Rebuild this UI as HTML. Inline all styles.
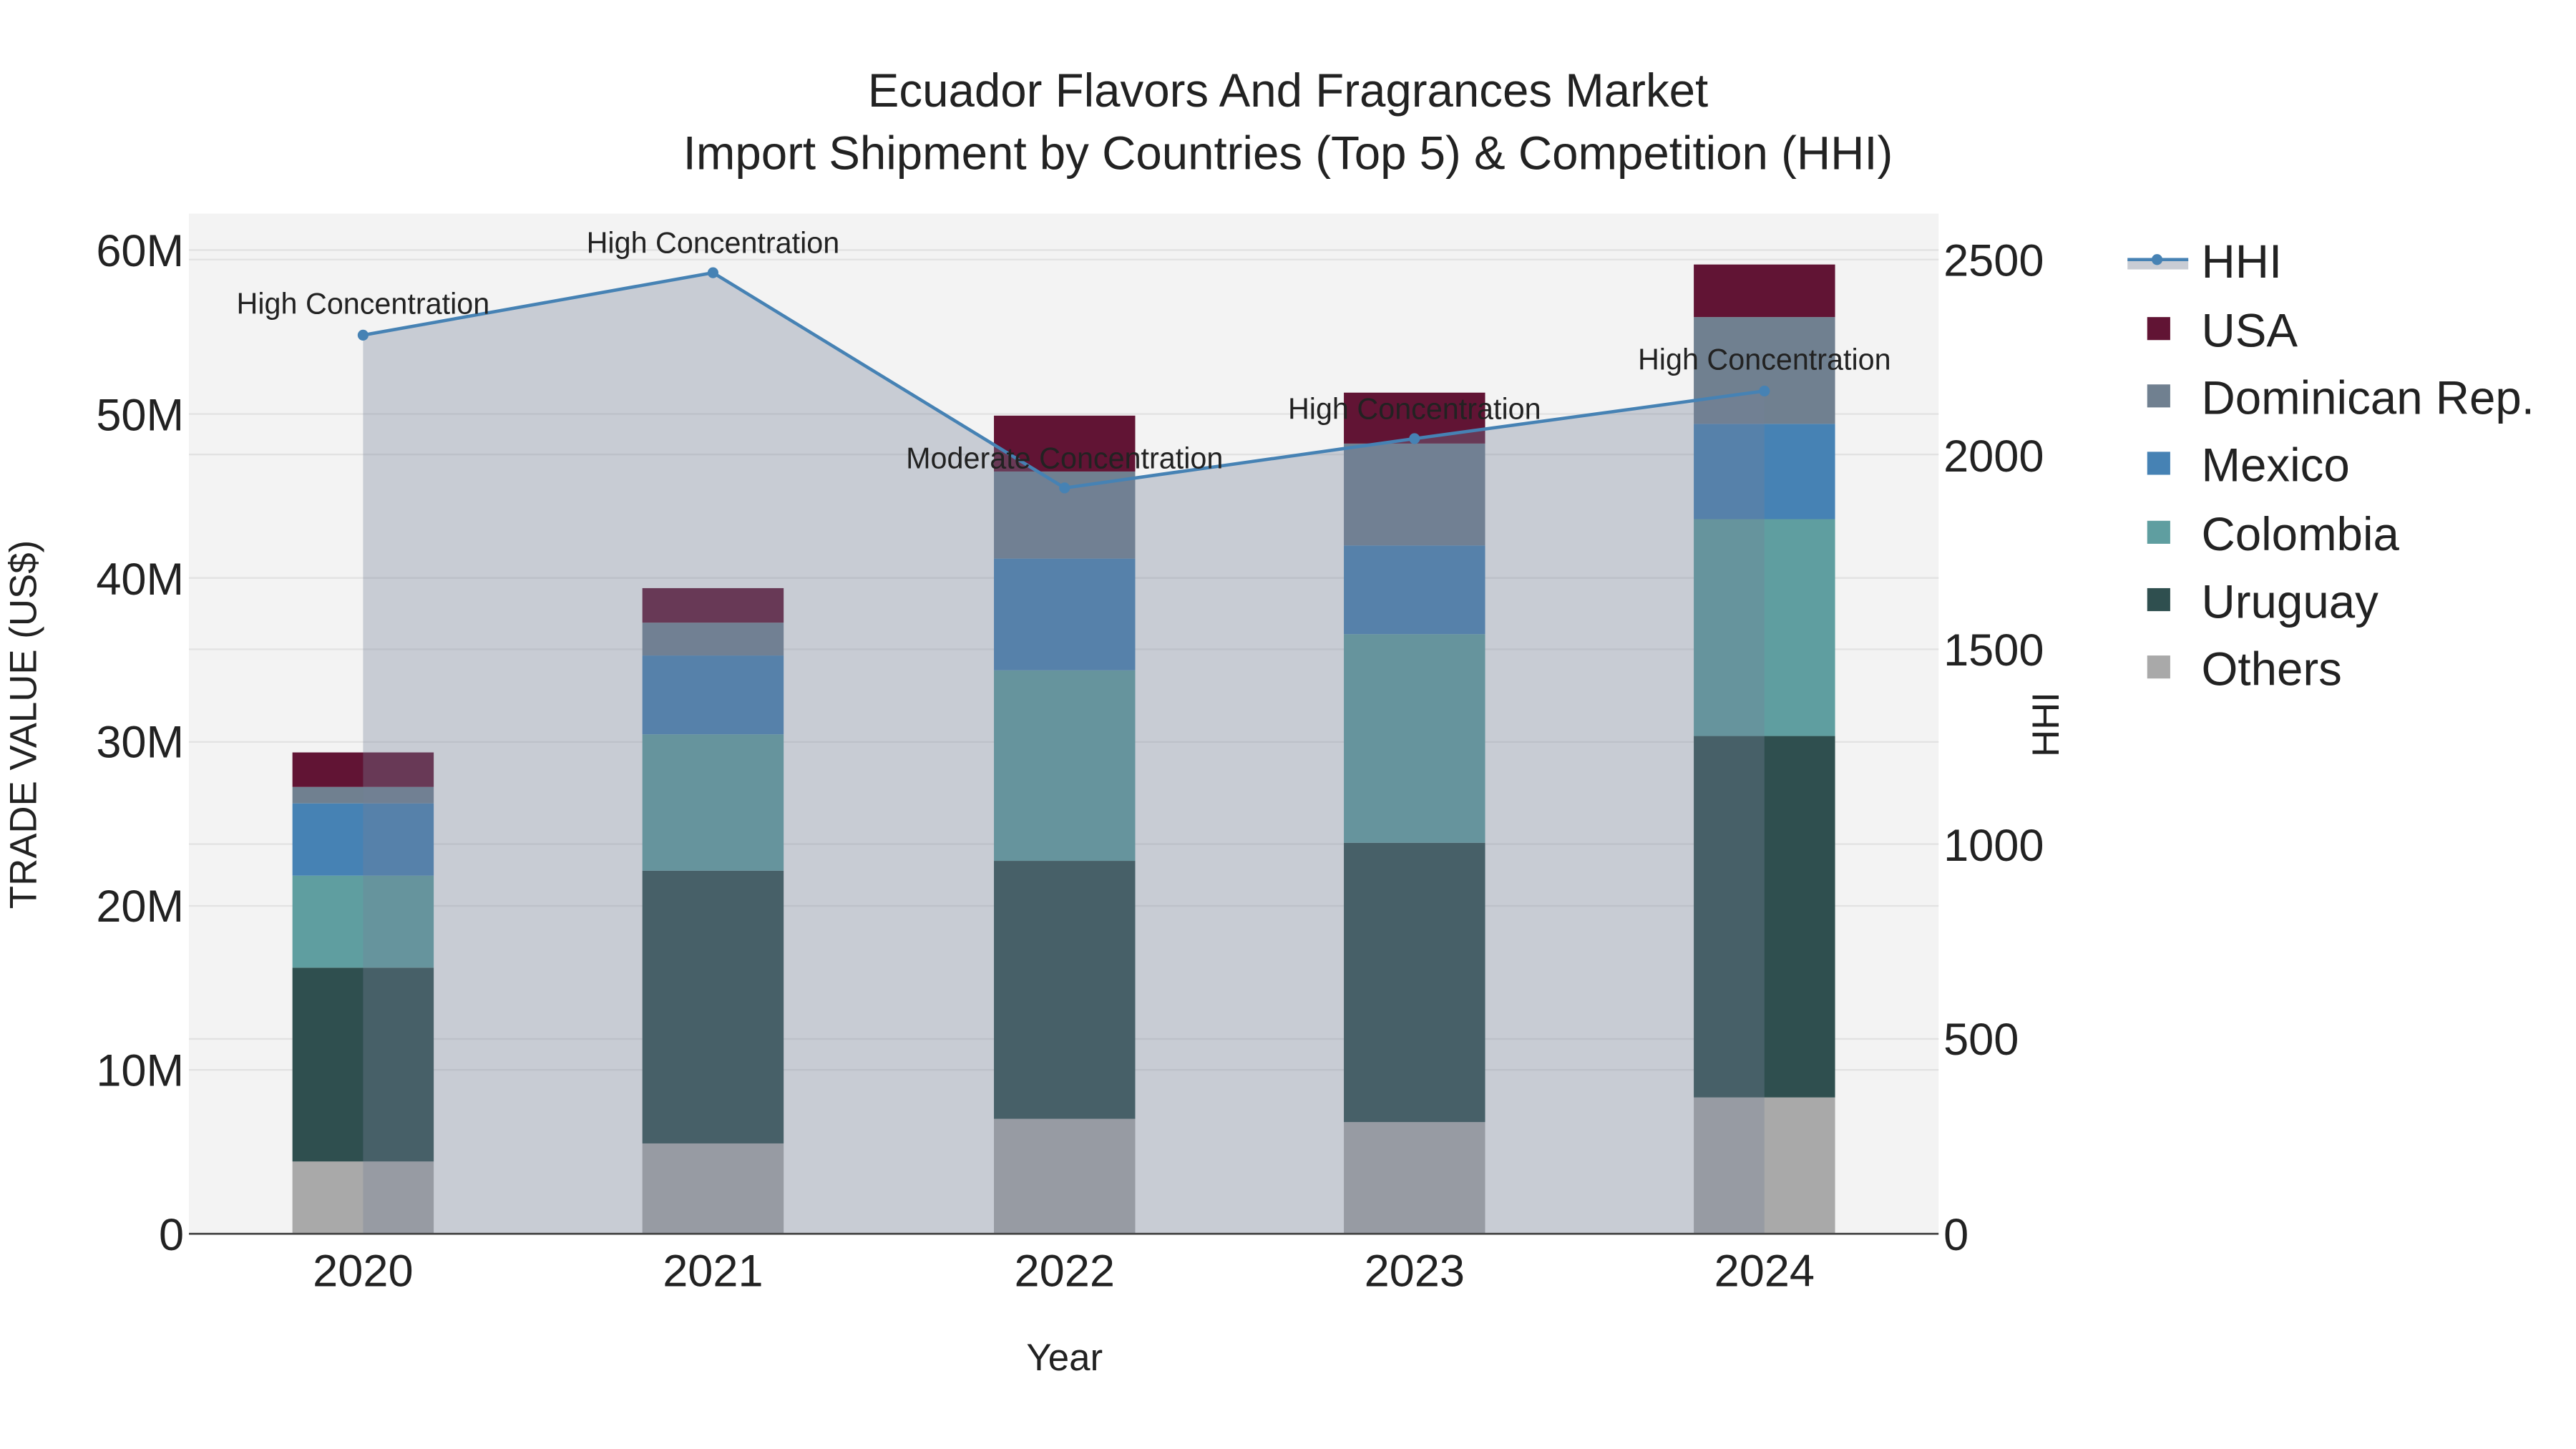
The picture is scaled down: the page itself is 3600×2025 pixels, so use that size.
<!DOCTYPE html>
<html><head><meta charset="utf-8"><style>html,body{margin:0;padding:0;background:#fff}svg{display:block}text{font-family:"Liberation Sans",sans-serif;fill:#222}</style></head><body>
<svg width="3600" height="2025" viewBox="0 0 1568 882" preserveAspectRatio="none" xmlns="http://www.w3.org/2000/svg">
<rect x="0" y="0" width="1568" height="882" fill="#fff"/>
<rect x="115" y="130" width="1065" height="621" fill="#f3f3f3"/>
<g stroke="#e2e2e2" stroke-width="1">
<line x1="115" x2="1180" y1="651.2" y2="651.2"/><line x1="115" x2="1180" y1="551.4" y2="551.4"/><line x1="115" x2="1180" y1="451.6" y2="451.6"/><line x1="115" x2="1180" y1="351.8" y2="351.8"/><line x1="115" x2="1180" y1="252" y2="252"/><line x1="115" x2="1180" y1="152.2" y2="152.2"/>
<line x1="115" x2="1180" y1="632.4" y2="632.4"/><line x1="115" x2="1180" y1="513.8" y2="513.8"/><line x1="115" x2="1180" y1="395.2" y2="395.2"/><line x1="115" x2="1180" y1="276.6" y2="276.6"/><line x1="115" x2="1180" y1="158" y2="158"/>
</g>
<g>
<rect x="178" y="707" width="86" height="44" fill="#a9a9a9"/><rect x="178" y="589" width="86" height="118" fill="#2f4f4f"/><rect x="178" y="533" width="86" height="56" fill="#5f9ea0"/><rect x="178" y="489" width="86" height="44" fill="#4682b4"/><rect x="178" y="479" width="86" height="10" fill="#708090"/><rect x="178" y="458" width="86" height="21" fill="#611434"/>
<rect x="391" y="696" width="86" height="55" fill="#a9a9a9"/><rect x="391" y="530" width="86" height="166" fill="#2f4f4f"/><rect x="391" y="447" width="86" height="83" fill="#5f9ea0"/><rect x="391" y="399" width="86" height="48" fill="#4682b4"/><rect x="391" y="379" width="86" height="20" fill="#708090"/><rect x="391" y="358" width="86" height="21" fill="#611434"/>
<rect x="605" y="681" width="86" height="70" fill="#a9a9a9"/><rect x="605" y="524" width="86" height="157" fill="#2f4f4f"/><rect x="605" y="408" width="86" height="116" fill="#5f9ea0"/><rect x="605" y="340" width="86" height="68" fill="#4682b4"/><rect x="605" y="287" width="86" height="53" fill="#708090"/><rect x="605" y="253" width="86" height="34" fill="#611434"/>
<rect x="818" y="683" width="86" height="68" fill="#a9a9a9"/><rect x="818" y="513" width="86" height="170" fill="#2f4f4f"/><rect x="818" y="386" width="86" height="127" fill="#5f9ea0"/><rect x="818" y="332" width="86" height="54" fill="#4682b4"/><rect x="818" y="270" width="86" height="62" fill="#708090"/><rect x="818" y="239" width="86" height="31" fill="#611434"/>
<rect x="1031" y="668" width="86" height="83" fill="#a9a9a9"/><rect x="1031" y="448" width="86" height="220" fill="#2f4f4f"/><rect x="1031" y="316" width="86" height="132" fill="#5f9ea0"/><rect x="1031" y="258" width="86" height="58" fill="#4682b4"/><rect x="1031" y="193" width="86" height="65" fill="#708090"/><rect x="1031" y="161" width="86" height="32" fill="#611434"/>
</g>
<polygon points="221,751 221,204 434,166 648,297 861,267 1074,238 1074,751" fill="rgb(116,128,151)" fill-opacity="0.34"/>
<polyline points="221,204 434,166 648,297 861,267 1074,238" fill="none" stroke="#4682b4" stroke-width="2"/>
<g fill="#4682b4"><circle cx="221" cy="204" r="3.3"/><circle cx="434" cy="166" r="3.3"/><circle cx="648" cy="297" r="3.3"/><circle cx="861" cy="267" r="3.3"/><circle cx="1074" cy="238" r="3.3"/></g>
<line x1="115" x2="1180" y1="751" y2="751" stroke="#444" stroke-width="1.2"/>
<g font-size="18" text-anchor="middle">
<text x="221" y="191">High Concentration</text><text x="434" y="154">High Concentration</text><text x="648" y="285">Moderate Concentration</text><text x="861" y="255">High Concentration</text><text x="1074" y="225">High Concentration</text>
</g>
<g font-size="28.5" text-anchor="middle">
<text x="784" y="65">Ecuador Flavors And Fragrances Market</text>
<text x="784" y="103">Import Shipment by Countries (Top 5) &amp; Competition (HHI)</text>
</g>
<g font-size="27.5" text-anchor="end">
<text x="112" y="761">0</text><text x="112" y="661">10M</text><text x="112" y="561">20M</text><text x="112" y="461">30M</text><text x="112" y="362">40M</text><text x="112" y="262">50M</text><text x="112" y="162">60M</text>
</g>
<g font-size="27.5" text-anchor="start">
<text x="1183" y="761">0</text><text x="1183" y="642">500</text><text x="1183" y="524">1000</text><text x="1183" y="405">1500</text><text x="1183" y="287">2000</text><text x="1183" y="168">2500</text>
</g>
<g font-size="27.5" text-anchor="middle">
<text x="221" y="783">2020</text><text x="434" y="783">2021</text><text x="648" y="783">2022</text><text x="861" y="783">2023</text><text x="1074" y="783">2024</text>
</g>
<text x="648" y="834" font-size="23" text-anchor="middle">Year</text>
<text transform="translate(22,441) rotate(-90)" font-size="23" text-anchor="middle">TRADE VALUE (US$)</text>
<text transform="translate(1253,441) rotate(-90)" font-size="23" text-anchor="middle">HHI</text>
<rect x="1295" y="158" width="37" height="6" fill="#c8ccd4"/>
<line x1="1295" x2="1332" y1="158" y2="158" stroke="#4682b4" stroke-width="2"/>
<circle cx="1313" cy="158" r="3.3" fill="#4682b4"/>
<g font-size="28.5">
<text x="1340" y="169">HHI</text><text x="1340" y="211">USA</text><text x="1340" y="252">Dominican Rep.</text><text x="1340" y="293">Mexico</text><text x="1340" y="335">Colombia</text><text x="1340" y="376">Uruguay</text><text x="1340" y="417">Others</text>
</g>
<rect x="1307" y="193" width="14" height="14" fill="#611434"/>
<rect x="1307" y="234" width="14" height="14" fill="#708090"/>
<rect x="1307" y="275" width="14" height="14" fill="#4682b4"/>
<rect x="1307" y="317" width="14" height="14" fill="#5f9ea0"/>
<rect x="1307" y="358" width="14" height="14" fill="#2f4f4f"/>
<rect x="1307" y="399" width="14" height="14" fill="#a9a9a9"/>
</svg>
</body></html>
